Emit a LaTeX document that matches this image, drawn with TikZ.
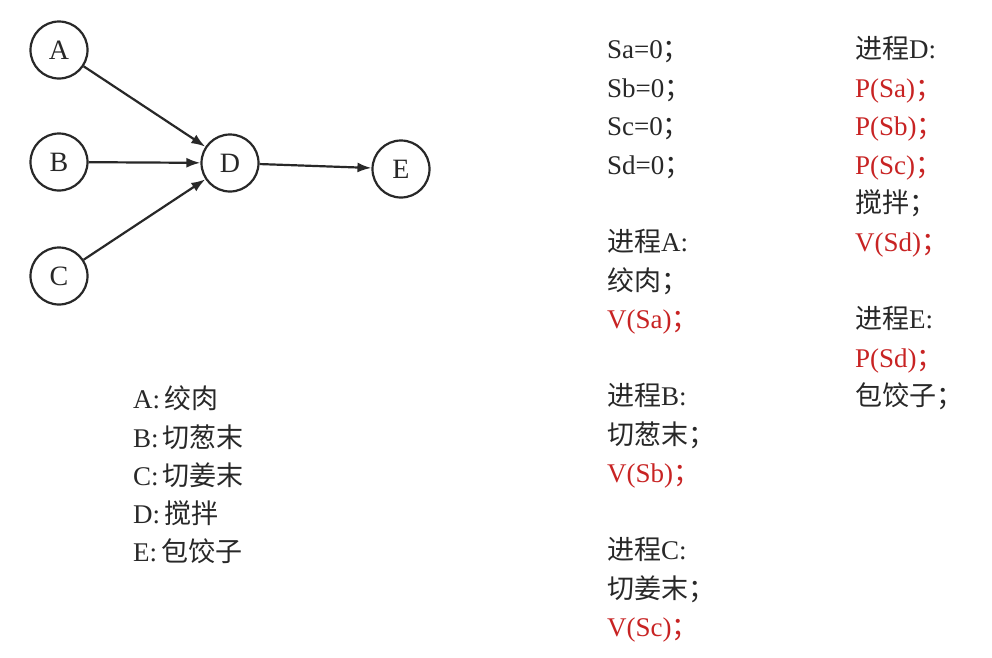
\documentclass[tikz,border=0pt]{standalone}
\usepackage{fontspec}
\setmainfont{Liberation Serif}
\newfontfamily\cjk{Noto Sans CJK SC}
\usetikzlibrary{arrows.meta}
\definecolor{txtgray}{RGB}{40,40,40}
\definecolor{txtred}{RGB}{200,35,35}
\newcommand\zh[1]{{\cjk #1}}
\begin{document}
\begin{tikzpicture}[x=1pt,y={(0pt,-1pt)},
  vtx/.style={circle,draw=txtgray,line width=2.2pt,minimum size=57pt,inner sep=0pt,font=\fontsize{28}{30}\selectfont,text=txtgray},
  edge/.style={-{Latex[length=14pt,width=10pt]},line width=2.2pt,draw=txtgray},
  txt/.style={anchor=base west,inner sep=0pt,font=\fontsize{27}{30}\selectfont,text=txtgray},
  redtxt/.style={txt,text=txtred}]
\useasboundingbox[fill=white] (0,0) rectangle (992,657);
% graph
\node[vtx] (A) at (59,50) {A};
\node[vtx] (B) at (59,162) {B};
\node[vtx] (C) at (59,276) {C};
\node[vtx] (D) at (230,163) {D};
\node[vtx] (E) at (401,169) {E};
\draw[edge] (A) -- (D);
\draw[edge] (B) -- (D);
\draw[edge] (C) -- (D);
\draw[edge] (D) -- (E);
% legend
\node[txt] (la) at (133,408) {A:\kern4pt\zh{绞肉}};
\node[txt] (lb) at (133,447) {B:\kern4pt\zh{切葱末}};
\node[txt] (lc) at (133,485) {C:\kern4pt\zh{切姜末}};
\node[txt] (ld) at (133,523) {D:\kern4pt\zh{搅拌}};
\node[txt] (le) at (133,561) {E:\kern4pt\zh{包饺子}};
% left column
\node[txt] (s1) at (607,58) {Sa=0\zh{；}};
\node[txt] (s2) at (607,97) {Sb=0\zh{；}};
\node[txt] (s3) at (607,135) {Sc=0\zh{；}};
\node[txt] (s4) at (607,174) {Sd=0\zh{；}};
\node[txt] (pa1) at (607,251) {\zh{进程}A:};
\node[txt] (pa2) at (607,290) {\zh{绞肉；}};
\node[redtxt] (pa3) at (607,328) {V(Sa)\zh{；}};
\node[txt] (pb1) at (607,405) {\zh{进程}B:};
\node[txt] (pb2) at (607,444) {\zh{切葱末；}};
\node[redtxt] (pb3) at (607,482) {V(Sb)\zh{；}};
\node[txt] (pc1) at (607,559) {\zh{进程}C:};
\node[txt] (pc2) at (607,598) {\zh{切姜末；}};
\node[redtxt] (pc3) at (607,636) {V(Sc)\zh{；}};
% right column
\node[txt] (pd1) at (855,58) {\zh{进程}D:};
\node[redtxt] (pd2) at (855,97) {P(Sa)\zh{；}};
\node[redtxt] (pd3) at (855,135) {P(Sb)\zh{；}};
\node[redtxt] (pd4) at (855,174) {P(Sc)\zh{；}};
\node[txt] (pd5) at (855,212) {\zh{搅拌；}};
\node[redtxt] (pd6) at (855,251) {V(Sd)\zh{；}};
\node[txt] (pe1) at (855,328) {\zh{进程}E:};
\node[redtxt] (pe2) at (855,367) {P(Sd)\zh{；}};
\node[txt] (pe3) at (855,405) {\zh{包饺子；}};
\end{tikzpicture}
\end{document}
